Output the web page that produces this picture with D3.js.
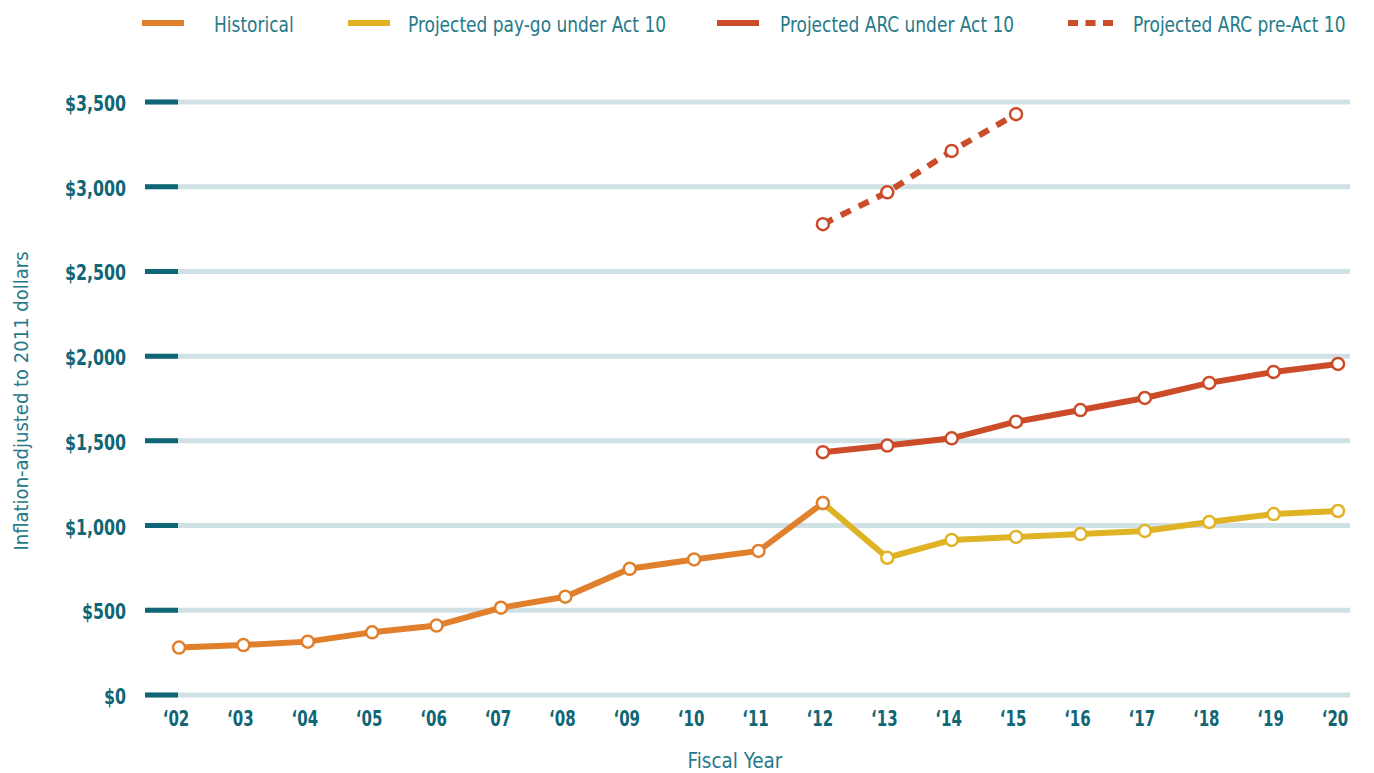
<!DOCTYPE html>
<html><head><meta charset="utf-8">
<script src="https://cdn.jsdelivr.net/npm/d3@7"></script>
<style>
body{margin:0;background:#fff;}
svg{display:block;}
text{font-family:"DejaVu Sans Condensed","DejaVu Sans",sans-serif;}
</style></head>
<body><svg id="c" width="1374" height="773"></svg>
<script>
const years = ["02","03","04","05","06","07","08","09","10","11","12","13","14","15","16","17","18","19","20"];
const yTicks = [0,500,1000,1500,2000,2500,3000,3500];
const historicalYears = ["02","03","04","05","06","07","08","09","10","11","12"];
const historical = [280,295,315,370,410,515,580,745,800,850,1133];
const paygoYears = ["12","13","14","15","16","17","18","19","20"];
const paygo = [1133,810,915,933,950,968,1021,1068,1086];
const arcYears = ["12","13","14","15","16","17","18","19","20"];
const arc = [1433,1472,1515,1613,1682,1753,1842,1907,1954];
const preActYears = ["12","13","14","15"];
const preAct = [2779,2967,3211,3428];
const legendLabels = ["Historical","Projected pay-go under Act 10","Projected ARC under Act 10","Projected ARC pre-Act 10"];

const svg = d3.select("#c");
const x = d3.scalePoint().domain(years).range([179,1338]);
const y = d3.scaleLinear().domain([0,3500]).range([695,102]);
const teal = "#0f6676";
const textTeal = "#267a89";

// grid
const grid = svg.append("g");
grid.selectAll("line.g").data(yTicks).join("line")
  .attr("x1",145).attr("x2",1350)
  .attr("y1",d=>y(d)).attr("y2",d=>y(d))
  .attr("stroke","#d0e1e5").attr("stroke-width",5);
grid.selectAll("line.t").data(yTicks).join("line")
  .attr("x1",145).attr("x2",178)
  .attr("y1",d=>y(d)).attr("y2",d=>y(d))
  .attr("stroke",teal).attr("stroke-width",5);

// y axis labels (horizontally condensed)
const fmt = d=>"$"+d3.format(",")(d);
svg.append("g").selectAll("text").data(yTicks).join("text")
  .attr("transform",d=>`translate(126,${y(d)+9}) scale(0.8,1)`)
  .attr("text-anchor","end").attr("font-size",22).attr("font-weight","bold")
  .attr("fill",teal).text(fmt);

// x axis labels
svg.append("g").selectAll("text").data(years).join("text")
  .attr("transform",d=>`translate(${x(d)-3},726) scale(0.76,1)`)
  .attr("text-anchor","middle").attr("font-size",22).attr("font-weight","bold")
  .attr("fill",teal).text(d=>"\u2018"+d);

// titles
svg.append("text").attr("transform","translate(735,768) scale(0.93,1)").attr("text-anchor","middle")
  .attr("font-size",22).attr("fill",textTeal).text("Fiscal Year");
svg.append("text").attr("transform","translate(28,401) rotate(-90)").attr("text-anchor","middle")
  .attr("font-size",20).attr("fill",textTeal).text("Inflation-adjusted to 2011 dollars");

const line = d3.line().x(d=>x(d[0])).y(d=>y(d[1]));
const series = [
  {yrs:historicalYears, vals:historical, color:"#e07f2c", dash:null},
  {yrs:paygoYears, vals:paygo, color:"#e0b324", dash:null},
  {yrs:arcYears, vals:arc, color:"#cc4b28", dash:null},
  {yrs:preActYears, vals:preAct, color:"#cc4b28", dash:"11,9"}
];
[1,2,3,0].forEach(i=>{
  const s = series[i];
  const pts = s.yrs.map((yr,j)=>[yr,s.vals[j]]);
  svg.append("path").datum(pts).attr("d",line).attr("fill","none")
    .attr("stroke",s.color).attr("stroke-width",6)
    .attr("stroke-dasharray",s.dash);
  s.pts = pts;
});
[1,2,3,0].forEach(i=>{
  const s = series[i];
  svg.append("g").selectAll("circle").data(s.pts).join("circle")
    .attr("cx",d=>x(d[0])).attr("cy",d=>y(d[1])).attr("r",6)
    .attr("fill","#fff").attr("stroke",s.color).attr("stroke-width",2.5);
});

// legend
const legX = [[142,214],[348,408],[717,780],[1068,1133]];
const leg = svg.append("g");
series.forEach((s,i)=>{
  const g = leg.append("g");
  g.append("line").attr("x1",legX[i][0]).attr("x2",legX[i][0]+(i==3?45:42))
    .attr("y1",23).attr("y2",23).attr("stroke",s.color).attr("stroke-width",6)
    .attr("stroke-dasharray",i==3?"10,7.5":null);
  g.append("text").attr("transform",`translate(${legX[i][1]},32) scale(0.86,1)`).attr("font-size",22)
    .attr("fill",textTeal).text(legendLabels[i]);
});
</script></body></html>
